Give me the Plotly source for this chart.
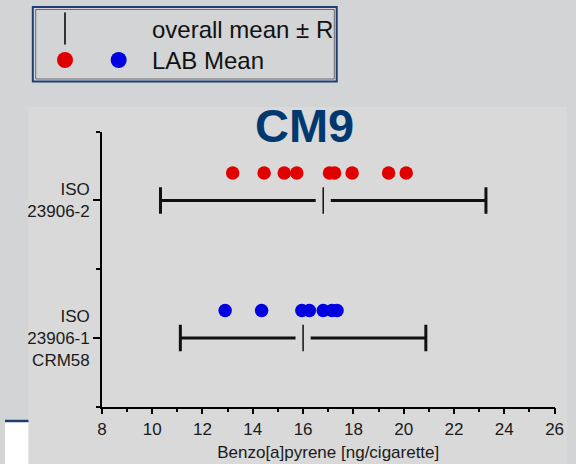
import plotly.graph_objects as go

# ---------------- data ----------------
categories = ["ISO<br>23906-2", "ISO<br>23906-1<br>CRM58"]
lab_means_23906_2 = [13.2, 14.45, 15.25, 15.75, 17.05, 17.25, 17.95, 19.4, 20.1]
lab_means_23906_1 = [12.9, 14.35, 15.95, 16.25, 16.8, 17.15, 17.35]
overall_means = [16.8, 16.0]
overall_R = [6.47, 4.88]
x_tick_values = [8, 10, 12, 14, 16, 18, 20, 22, 24, 26]
x_range = [8, 26]
x_title = "Benzo[a]pyrene [ng/cigarette]"
chart_title = "CM9"
legend_labels = ["overall mean ± R", "LAB Mean"]

# ---------------- style ----------------
W, H = 576, 464
FONT = "Liberation Sans, Arial, sans-serif"
RED = "#e00000"
BLUE = "#0000e0"
BAR = "#111111"
PAGE_BG = "#d3d4d6"
PANEL_BG = "#d9d9d9"
NAVY = "#1f3f74"
DOT_OFFSET = 0.4
MEAN_GAP = 0.3

lab_sets = [lab_means_23906_2, lab_means_23906_1]
colors = [RED, BLUE]
n = len(categories)
cat_y = [2 * (n - i) - 1 for i in range(n)]  # 3, 1

fig = go.Figure()

for i in range(n):
    m, R, yc = overall_means[i], overall_R[i], cat_y[i]
    # range bar with a gap around the mean
    fig.add_trace(go.Scatter(
        x=[m - R, m - MEAN_GAP, None, m + MEAN_GAP, m + R],
        y=[yc, yc, None, yc, yc],
        mode="lines", line=dict(color=BAR, width=3),
        showlegend=False, hoverinfo="skip", xaxis="x", yaxis="y"))
    # end caps
    fig.add_trace(go.Scatter(
        x=[m - R, m + R], y=[yc, yc], mode="markers",
        marker=dict(symbol="line-ns", size=19, line=dict(color=BAR, width=3)),
        showlegend=False, hoverinfo="skip", xaxis="x", yaxis="y"))
    # mean tick
    fig.add_trace(go.Scatter(
        x=[m], y=[yc], mode="markers",
        marker=dict(symbol="line-ns", size=19, line=dict(color=BAR, width=1.5)),
        showlegend=False, hoverinfo="skip", xaxis="x", yaxis="y"))
    # lab means
    fig.add_trace(go.Scatter(
        x=lab_sets[i], y=[yc + DOT_OFFSET] * len(lab_sets[i]), mode="markers",
        marker=dict(symbol="circle", size=13.5, color=colors[i], line=dict(width=0)),
        showlegend=False, xaxis="x", yaxis="y"))

# custom legend symbols (pixel-space overlay axes)
fig.add_trace(go.Scatter(
    x=[61.5], y=[28.5], mode="markers",
    marker=dict(symbol="line-ns", size=23, line=dict(color="#333333", width=2)),
    showlegend=False, hoverinfo="skip", xaxis="x2", yaxis="y2"))
fig.add_trace(go.Scatter(
    x=[61.5, 116.5], y=[60, 60], mode="markers",
    marker=dict(symbol="circle", size=16, color=colors, line=dict(width=0)),
    showlegend=False, hoverinfo="skip", xaxis="x2", yaxis="y2"))

x0p, x1p = 99.3, 563.3
ytop, ybot = 131.7, 406.7

fig.update_layout(
    width=W, height=H,
    margin=dict(l=0, r=0, t=0, b=0),
    paper_bgcolor=PAGE_BG,
    plot_bgcolor="rgba(0,0,0,0)",
    font=dict(family=FONT, color="#1a1a1a"),
    showlegend=False,
    xaxis=dict(
        domain=[x0p / W, x1p / W], range=x_range,
        tickmode="array", tickvals=x_tick_values,
        ticks="outside", ticklen=6, tickwidth=1.5, tickcolor="black",
        minor=dict(dtick=1, tick0=8, ticks="outside", ticklen=4, tickwidth=1.5, tickcolor="black"),
        showline=True, linecolor="black", linewidth=1.5,
        showgrid=False, zeroline=False,
        tickfont=dict(size=17, color="#1a1a1a"),
        title=dict(text=x_title, font=dict(size=17, color="#1a1a1a"), standoff=8),
    ),
    yaxis=dict(
        domain=[(H - ybot) / H, (H - ytop) / H], range=[0, 4],
        tickmode="array", tickvals=cat_y, ticktext=categories,
        ticks="outside", ticklen=7, tickwidth=1.5, tickcolor="black",
        minor=dict(tickvals=[0, 2, 4], ticks="outside", ticklen=4, tickwidth=1.5, tickcolor="black"),
        showline=True, linecolor="black", linewidth=1.5,
        showgrid=False, zeroline=False,
        tickfont=dict(size=17, color="#1a1a1a"),
    ),
    xaxis2=dict(domain=[0, 1], range=[0, W], visible=False, fixedrange=True),
    yaxis2=dict(domain=[0, 1], range=[H, 0], visible=False, fixedrange=True, anchor="x2"),
    shapes=[
        # chart panel
        dict(type="rect", xref="paper", yref="paper", x0=24 / W, x1=1, y0=0, y1=(H - 107) / H,
             fillcolor=PANEL_BG, line=dict(width=0), layer="below"),
        # white strip bottom-left
        dict(type="rect", xref="paper", yref="paper", x0=0, x1=24 / W, y0=0, y1=(H - 422) / H,
             fillcolor="white", line=dict(width=0), layer="below"),
        # blue rule
        dict(type="line", xref="paper", yref="paper", x0=0, x1=24 / W, y0=(H - 421) / H, y1=(H - 421) / H,
             line=dict(color=NAVY, width=2.5), layer="below"),
        # legend box
        dict(type="rect", xref="x2", yref="y2", x0=28.5, x1=340, y0=7, y1=81.5,
             line=dict(color=NAVY, width=2), fillcolor="rgba(0,0,0,0)"),
        dict(type="rect", xref="x2", yref="y2", x0=31.5, x1=337.5, y0=9.5, y1=79,
             line=dict(color="#6a6a6a", width=1), fillcolor="rgba(0,0,0,0)"),
    ],
    annotations=[
        dict(text=legend_labels[0], xref="x2", yref="y2", x=149, y=29.5,
             xanchor="left", yanchor="middle", showarrow=False,
             font=dict(size=24, color="#111111")),
        dict(text=legend_labels[1], xref="x2", yref="y2", x=149, y=60.5,
             xanchor="left", yanchor="middle", showarrow=False,
             font=dict(size=24, color="#111111")),
        dict(text="<b>" + chart_title + "</b>", xref="x2", yref="y2", x=307, y=125,
             xanchor="center", yanchor="middle", showarrow=False,
             font=dict(size=47, color="#003870")),
    ],
)

fig.write_html("out.html")
